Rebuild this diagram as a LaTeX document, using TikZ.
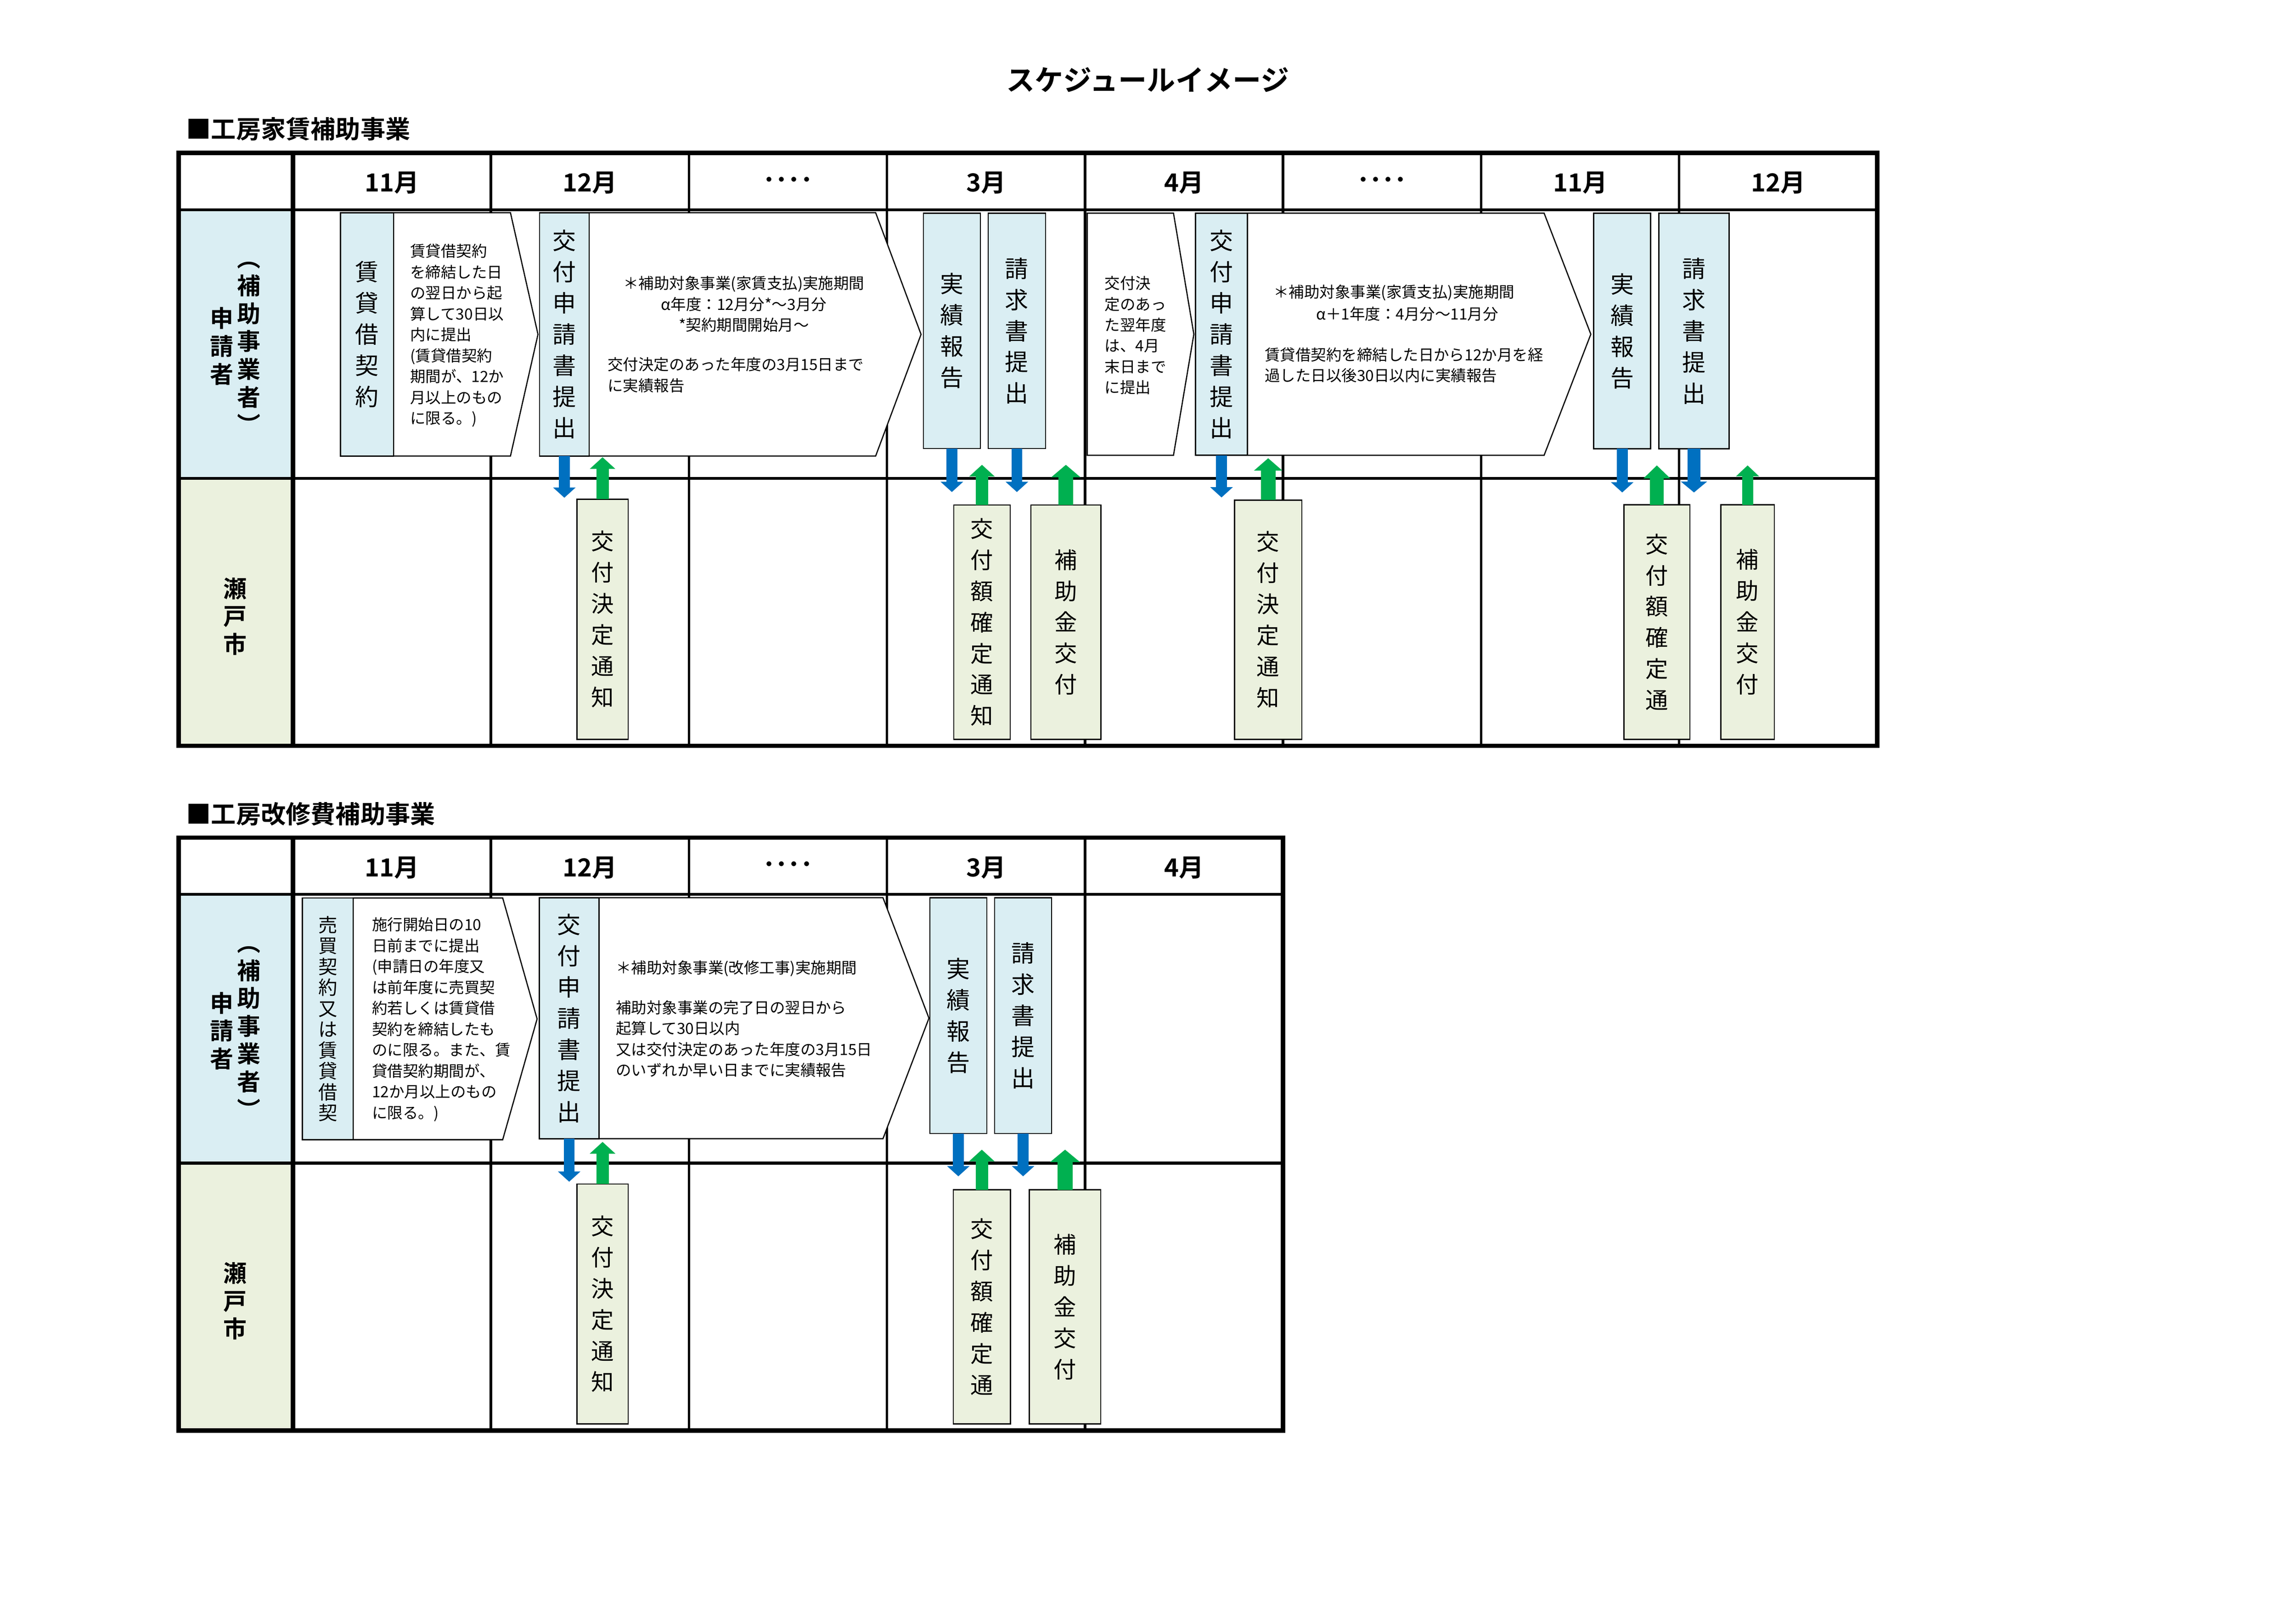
\documentclass[tikz,border=0pt]{standalone}
\usepackage{fontspec}
\setmainfont{Noto Sans CJK JP}[BoldFont={Noto Sans CJK JP Bold}]
\usetikzlibrary{arrows.meta}
\definecolor{lblue}{HTML}{DAEEF3}
\definecolor{lgreen}{HTML}{EBF1DE}
\definecolor{arrblue}{HTML}{0070C0}
\definecolor{arrgreen}{HTML}{00B050}
\tikzset{
  thickrule/.style={line width=3pt},
  midrule/.style={line width=1.9pt},
  colrule/.style={line width=1.7pt},
  hdr/.style={font=\bfseries\fontsize{17}{19}\selectfont, inner sep=0pt},
  sidelabel/.style={font=\bfseries\fontsize{16}{19}\selectfont, align=center, inner sep=0pt},
  sectitle/.style={font=\bfseries\fontsize{17}{20}\selectfont, inner sep=0pt, anchor=west},
  maintitle/.style={font=\bfseries\fontsize{19.5}{22}\selectfont, inner sep=0pt},
  appbox/.style={draw, line width=0.8pt, fill=lblue, inner sep=0pt, outer sep=0pt, align=center, anchor=north west, font=\fontsize{16}{21.3}\selectfont},
  citybox/.style={appbox, fill=lgreen, font=\fontsize{15.5}{21.3}\selectfont},
  pentagon/.style={draw, line width=0.8pt, fill=white},
  note/.style={inner sep=0pt, align=left, anchor=north west, font=\fontsize{10.5}{14.26}\selectfont},
  notec/.style={inner sep=0pt, align=center, font=\fontsize{10.5}{14.26}\selectfont},
  submit/.style={draw=arrblue, line width=7.4pt, -{Triangle[width=15pt,length=7pt]}},
  notify/.style={draw=arrgreen, line width=8.5pt, -{Triangle[width=17pt,length=8pt]}},
}
\newcommand\bx[7]{\node[#1, minimum width={#5-#3}, minimum height={#6-#4}] (#2) at (#3,#4) {#7};}
\newcommand\schedgrid[4]{%
  \fill[lblue] (122,143.3) rectangle (200,326.8);
  \fill[lgreen] (122,326.8) rectangle (200,509.5);
  \draw[midrule] (122,326.8) -- (#2,326.8);
  \foreach \x in {#4} \draw[colrule] (\x,104.4) -- (\x,509.5);
  \draw[midrule] (122,143.3) -- (#2,143.3);
  \draw[thickrule] (200,104.4) -- (200,509.5);
  \draw[thickrule] (122,104.4) rectangle (#2,509.5);
  \node[sidelabel] (#1a) at (170,237.5) {︵\\補\\助\\事\\業\\者\\︶};
  \node[sidelabel] (#1b) at (151.5,236.5) {申\\請\\者};
  \node[sidelabel] (#1c) at (160.5,421) {瀬\\戸\\市};
  \foreach \lab [count=\i] in {#3} \node[hdr] (#1h\i) at ({200+135.25*(\i-0.5)},125) {\lab};
}
\begin{document}
\begin{tikzpicture}[x=1pt,y=-1pt]
\useasboundingbox (0,0) rectangle (1568,1107.9);
\node[maintitle] (title) at (783.8,54.5) {スケジュールイメージ};
\node[sectitle] (sec1) at (127,88) {■工房家賃補助事業};
\node[sectitle] (sec2) at (127,556) {■工房改修費補助事業};

% ---------- grids ----------
\schedgrid{t}{1282}{11月,12月,････,3月,4月,････,11月,12月}{335.25,470.5,605.75,741,876.25,1011.5,1146.75}
\begin{scope}[yshift=-467.7pt]
\schedgrid{l}{876.25}{11月,12月,････,3月,4月}{335.25,470.5,605.75,741}
\end{scope}

% ---------- top table: applicant row ----------
\draw[pentagon] (268.8,145.3) -- (348.6,145.3) -- (367.4,228.4) -- (348.6,311.5) -- (268.8,311.5) -- cycle;
\draw[pentagon] (402.3,145.3) -- (598,145.3) -- (629,228.4) -- (598,311.5) -- (402.3,311.5) -- cycle;
\draw[pentagon] (742.5,145.6) -- (801.4,145.6) -- (815.3,228.3) -- (801.4,311) -- (742.5,311) -- cycle;
\draw[pentagon] (851.9,145.6) -- (1054.5,145.6) -- (1086.4,228.3) -- (1054.5,311) -- (851.9,311) -- cycle;

\bx{appbox}{b1}{232.6}{145.3}{268.8}{311.5}{賃\\貸\\借\\契\\約}
\bx{appbox}{b2}{368.5}{145.3}{402.3}{311.5}{交\\付\\申\\請\\書\\提\\出}
\bx{appbox}{b3}{630.6}{145.6}{669.5}{306.4}{実\\績\\報\\告}
\bx{appbox}{b4}{674.9}{145.6}{714}{306.4}{請\\求\\書\\提\\出}
\bx{appbox}{b5}{816.5}{145.6}{851.9}{311}{交\\付\\申\\請\\書\\提\\出}
\bx{appbox}{b6}{1088.4}{145.7}{1127.3}{306.5}{実\\績\\報\\告}
\bx{appbox}{b7}{1132.9}{145.7}{1180.8}{306.5}{請\\求\\書\\提\\出}

\node[note] (n1) at (280,166.5) {賃貸借契約\\を締結した日\\の翌日から起\\算して30日以\\内に提出\\(賃貸借契約\\期間が、12か\\月以上のもの\\に限る。)};
\node[notec, anchor=north] (n2) at (508,188.4) {＊補助対象事業(家賃支払)実施期間\\α年度：12月分*～3月分\\*契約期間開始月～};
\node[note] (n3) at (414.8,244) {交付決定のあった年度の3月15日まで\\に実績報告};
\node[note] (n4) at (754.2,188.4) {交付決\\定のあっ\\た翌年度\\は、4月\\末日まで\\に提出};
\node[notec] (n5) at (952,200) {＊補助対象事業(家賃支払)実施期間};
\node[notec] (n6) at (961,214.3) {α＋1年度：4月分～11月分};
\node[note] (n7) at (863.5,237.2) {賃貸借契約を締結した日から12か月を経\\過した日以後30日以内に実績報告};

% ---------- top table: city row ----------
\bx{citybox}{c1}{394}{341}{429}{505}{交\\付\\決\\定\\通\\知}
\bx{citybox}{c2}{651.3}{345}{689.9}{505}{交\\付\\額\\確\\定\\通\\知}
\bx{citybox}{c3}{704}{345}{751.8}{505}{補\\助\\金\\交\\付}
\bx{citybox}{c4}{843.1}{341.6}{889}{505}{交\\付\\決\\定\\通\\知}
\bx{citybox}{c5}{1109}{344.8}{1154}{505}{交\\付\\額\\確\\定\\通}
\bx{citybox}{c6}{1175.2}{344.8}{1211.7}{505}{補\\助\\金\\交\\付}

% ---------- top table: arrows ----------
\coordinate (a1) at ([yshift=-28.5pt]b2.south);
\coordinate (a2) at ([yshift=-29.7pt]b3.south);
\coordinate (a3) at ([yshift=-29.7pt]b4.south);
\coordinate (a4) at ([yshift=-28.8pt]b5.south);
\coordinate (a5) at ([yshift=-29.9pt]b6.south);
\coordinate (a6) at ([yshift=-29.9pt]b7.south);
\draw[submit] (b2.south) -- (a1);
\draw[submit] (b3.south) -- (a2);
\draw[submit] (b4.south) -- (a3);
\draw[submit] (b5.south) -- (a4);
\draw[submit] (b6.south) -- (a5);
\draw[submit, line width=8.6pt, -{Triangle[width=17.6pt,length=7.5pt]}] (b7.south) -- (a6);
\coordinate (g1) at ([yshift=28.7pt]c1.north);
\coordinate (g2) at ([yshift=27.5pt]c2.north);
\coordinate (g3) at ([yshift=27.5pt]c3.north);
\coordinate (g4) at ([yshift=28.6pt]c4.north);
\coordinate (g5) at ([yshift=26.9pt]c5.north);
\coordinate (g6) at ([yshift=26.9pt]c6.north);
\draw[notify] (c1.north) -- (g1);
\draw[notify] (c2.north) -- (g2);
\draw[notify, line width=10.2pt, -{Triangle[width=19.5pt,length=8.5pt]}] (c3.north) -- (g3);
\draw[notify, line width=10pt, -{Triangle[width=19pt,length=8.5pt]}] (c4.north) -- (g4);
\draw[notify, line width=9.2pt, -{Triangle[width=18pt,length=9pt]}] (c5.north) -- (g5);
\draw[notify, line width=7.6pt, -{Triangle[width=15.4pt,length=7.5pt]}] (c6.north) -- (g6);

% ---------- lower table: applicant row ----------
\draw[pentagon] (241.2,613.4) -- (343.3,613.4) -- (366.8,696) -- (343.3,778.5) -- (241.2,778.5) -- cycle;
\draw[pentagon] (409,613.2) -- (603,613.2) -- (634.4,695.5) -- (603,777.8) -- (409,777.8) -- cycle;

\bx{appbox,font=\fontsize{13}{14.26}\selectfont}{lb1}{206.5}{613.4}{241.2}{778.5}{売\\買\\契\\約\\又\\は\\賃\\貸\\借\\契}
\bx{appbox}{lb2}{368.4}{613.2}{409}{777.8}{交\\付\\申\\請\\書\\提\\出}
\bx{appbox}{lb3}{635}{613.2}{673.9}{774.2}{実\\績\\報\\告}
\bx{appbox}{lb4}{679.2}{613.2}{718.2}{774.2}{請\\求\\書\\提\\出}

\node[note] (ln1) at (253.9,626.6) {施行開始日の10\\日前までに提出\\(申請日の年度又\\は前年度に売買契\\約若しくは賃貸借\\契約を締結したも\\のに限る。また、賃\\貸借契約期間が、\\12か月以上のもの\\に限る。)};
\node[note] (ln2) at (420.4,655.8) {＊補助対象事業(改修工事)実施期間};
\node[note] (ln3) at (420.4,683.1) {補助対象事業の完了日の翌日から\\起算して30日以内\\又は交付決定のあった年度の3月15日\\のいずれか早い日までに実績報告};

% ---------- lower table: city row ----------
\bx{citybox}{lc1}{394}{808.7}{429}{972.7}{交\\付\\決\\定\\通\\知}
\bx{citybox}{lc2}{651}{812.7}{690}{972.7}{交\\付\\額\\確\\定\\通}
\bx{citybox}{lc3}{703}{812.7}{751.7}{972.7}{補\\助\\金\\交\\付}

% ---------- lower table: arrows ----------
\coordinate (la1) at ([yshift=-29.4pt]lb2.south);
\coordinate (la2) at ([yshift=-29.3pt]lb3.south);
\coordinate (la3) at ([yshift=-29.3pt]lb4.south);
\draw[submit] (lb2.south) -- (la1);
\draw[submit] (lb3.south) -- (la2);
\draw[submit] (lb4.south) -- (la3);
\coordinate (lg1) at ([yshift=28.7pt]lc1.north);
\coordinate (lg2) at ([yshift=27.4pt]lc2.north);
\coordinate (lg3) at ([yshift=27.4pt]lc3.north);
\draw[notify] (lc1.north) -- (lg1);
\draw[notify] (lc2.north) -- (lg2);
\draw[notify, line width=10.2pt, -{Triangle[width=20pt,length=8.5pt]}] (lc3.north) -- (lg3);
\end{tikzpicture}
\end{document}
